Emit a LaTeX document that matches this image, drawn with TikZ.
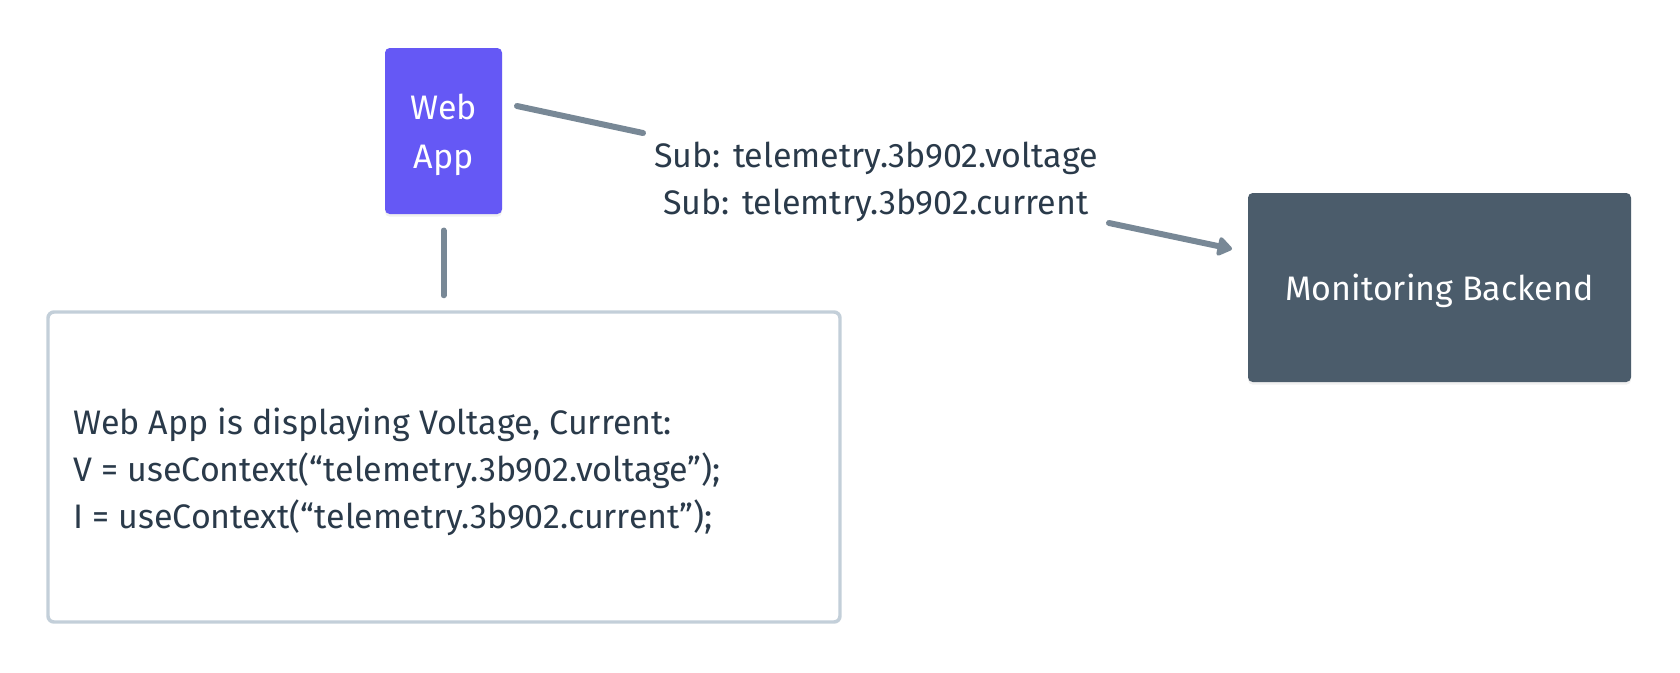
\documentclass[tikz,border=0pt]{standalone}
\usepackage{fontspec}
\setmainfont{Fira Sans}
\usetikzlibrary{arrows.meta,shadows}

\definecolor{appPurple}{HTML}{6558F5}
\definecolor{backendSlate}{HTML}{4B5C6B}
\definecolor{linkGray}{HTML}{788896}
\definecolor{inkDark}{HTML}{2A3A4A}
\definecolor{noteBorder}{HTML}{C3CFD9}

\tikzset{
	box/.style={rounded corners=3.5pt, inner sep=0pt, align=center, text=white,
		font=\fontsize{25.5}{36.75}\selectfont, text depth=0pt,
		drop shadow={opacity=0.12, shadow xshift=0pt, shadow yshift=-2pt}},
	link/.style={draw=linkGray, line width=4.5pt, line cap=round},
	plain text/.style={text=inkDark, inner sep=0pt, font=\fontsize{25.5}{35.5}\selectfont}}
\tikzset{every picture/.style={line width=0.75pt}}

\begin{document}
\begin{tikzpicture}[x=0.75pt,y=0.75pt,yscale=-1,xscale=1]
	\useasboundingbox (0,0) rectangle (1680,672);

	%Shape: Rectangle [Web App]
	\node[box, fill=appPurple, minimum width=87.75pt, minimum height=124.5pt] (webapp) at (443.5,131) {Web\\App};
	%Shape: Rectangle [Monitoring Backend]
	\node[box, fill=backendSlate, minimum width=287.25pt, minimum height=141.75pt] (backend) at (1439.5,287.5) {Monitoring Backend};
	%Shape: Rectangle [note]
	\node[draw=noteBorder, line width=2.6pt, rounded corners=4.5pt, fill=white,
		minimum width=594pt, minimum height=232.5pt] (note) at (444,467) {};

	% Text Node
	\node[plain text, align=left, anchor=west] (notetext) at (73,472)
		{Web App is displaying Voltage, Current:\\V = useContext(“telemetry.3b902.voltage”);\\I = useContext(“telemetry.3b902.current”);};
	% Text Node
	\node[plain text, align=center] (sublabel) at (876,182) {Sub: telemetry.3b902.voltage\\Sub: telemtry.3b902.current};

	%Shape: Line ends
	\coordinate (wa-out) at (517,106);
	\coordinate (label-in) at (643,133);
	\coordinate (label-out) at (1109,223);
	\coordinate (be-in) at (1232,249);

	%Straight Lines
	\draw[link] (wa-out) -- (label-in);
	\draw[link, -{Triangle[length=12pt, width=16pt, round]}] (label-out) -- (be-in);
	\draw[link, shorten <=12pt, shorten >=11.25pt] (webapp.south) -- (webapp.south |- note.north);

\end{tikzpicture}
\end{document}
